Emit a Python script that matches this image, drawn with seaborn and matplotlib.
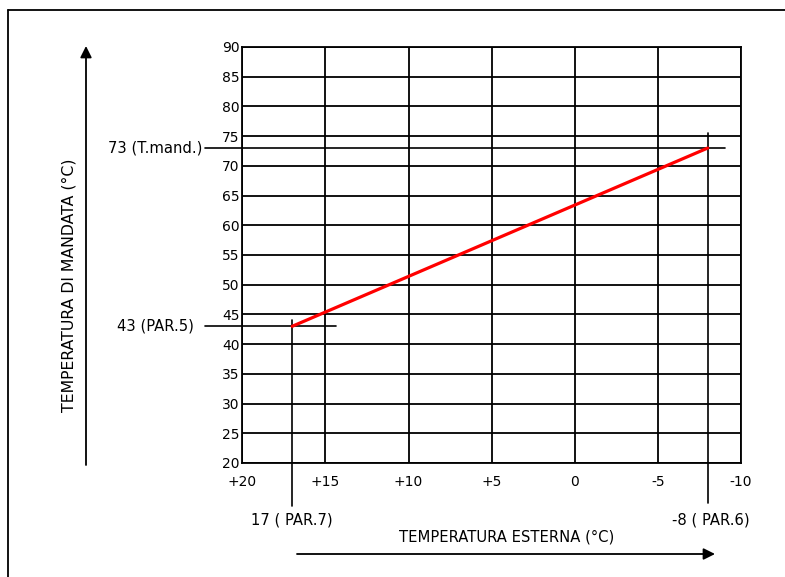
import matplotlib
matplotlib.use("Agg")
import matplotlib.pyplot as plt
import seaborn as sns
import pandas as pd
from matplotlib.lines import Line2D

# ---- data ----
ext_temp = [17, -8]          # outdoor temperature (°C): PAR.7, PAR.6
flow_temp = [43, 73]         # flow temperature (°C): PAR.5, T.mand.
x_ticks = [20, 15, 10, 5, 0, -5, -10]
x_ticklabels = ["+20", "+15", "+10", "+5", "0", "-5", "-10"]
y_ticks = [20, 25, 30, 35, 40, 45, 50, 55, 60, 65, 70, 75, 80, 85, 90]
label_flow_hi = "73 (T.mand.)"
label_flow_lo = "43 (PAR.5)"
label_ext_lo = "17 ( PAR.7)"
label_ext_hi = "-8 ( PAR.6)"
xlabel = "TEMPERATURA ESTERNA (°C)"
ylabel = "TEMPERATURA DI MANDATA (°C)"

sns.set_style("white")
plt.rcParams["font.family"] = ["DejaVu Sans"]
plt.rcParams["text.color"] = "black"
FS = 10
FS2 = 10.6

W, H = 785, 577
fig = plt.figure(figsize=(W / 100, H / 100), dpi=100)

def fx(x):
    return x / W

def fy(y):
    return 1 - y / H

ax = fig.add_axes([fx(242.3), fy(463), (741 - 242.3) / W, (463 - 47) / H])

df = pd.DataFrame({"ext": ext_temp, "flow": flow_temp})
sns.lineplot(data=df, x="ext", y="flow", color="red", lw=2.3, ax=ax, zorder=5)

ax.set_xlim(20, -10)
ax.set_ylim(20, 90)
ax.set_xticks(x_ticks)
ax.set_xticklabels(x_ticklabels)
ax.set_yticks(y_ticks)
ax.tick_params(length=0, labelsize=FS, colors="black")
ax.tick_params(axis="x", pad=9)
ax.tick_params(axis="y", pad=2)
ax.grid(True, color="black", lw=1.3)
for s in ax.spines.values():
    s.set_color("black")
    s.set_linewidth(1.3)
ax.set_xlabel("")
ax.set_ylabel("")

# guide lines for the parameter points
kw = dict(color="black", lw=1.2, clip_on=False, zorder=4)
ax.plot([22.24, -9.06], [flow_temp[1], flow_temp[1]], **kw)
ax.plot([ext_temp[1], ext_temp[1]], [75.5, 13.3], **kw)
ax.plot([22.24, 14.38], [flow_temp[0], flow_temp[0]], **kw)
ax.plot([ext_temp[0], ext_temp[0]], [44.0, 12.7], **kw)

ax.text(22.4, flow_temp[1], label_flow_hi, ha="right", va="center", fontsize=FS2, clip_on=False)
ax.text(22.9, flow_temp[0], label_flow_lo, ha="right", va="center", fontsize=FS2, clip_on=False)
ax.text(ext_temp[0], 10.4, label_ext_lo, ha="center", va="center", fontsize=FS2, clip_on=False)
ax.text(ext_temp[1] - 0.2, 10.4, label_ext_hi, ha="center", va="center", fontsize=FS2, clip_on=False)

# axis titles
fig.text(fx(507), fy(537), xlabel, ha="center", va="center", fontsize=FS2)
fig.text(fx(69), fy(285), ylabel, ha="center", va="center", rotation=90, fontsize=11.3)

# arrows
ap = dict(arrowstyle="-|>", color="black", lw=1.3, mutation_scale=17, shrinkA=0, shrinkB=0)
fig.add_artist(matplotlib.patches.FancyArrowPatch((fx(86), fy(465)), (fx(86), fy(46)),
                                                  transform=fig.transFigure, **ap))
fig.add_artist(matplotlib.patches.FancyArrowPatch((fx(297), fy(554)), (fx(715), fy(554)),
                                                  transform=fig.transFigure, **ap))

# outer frame (top and left edges visible)
fig.add_artist(Line2D([fx(8), 1], [fy(10), fy(10)], color="black", lw=1.3, transform=fig.transFigure))
fig.add_artist(Line2D([fx(8), fx(8)], [fy(10), 0], color="black", lw=1.3, transform=fig.transFigure))

fig.savefig("out.png", dpi=100)
